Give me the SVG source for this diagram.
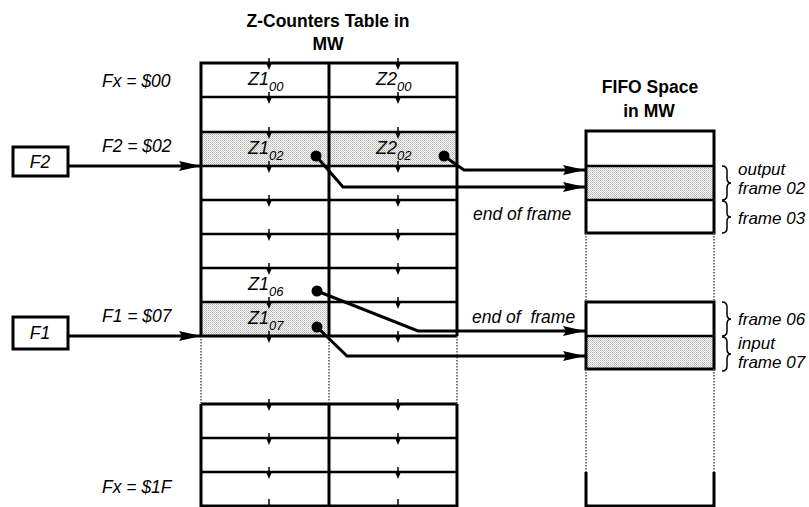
<svg xmlns="http://www.w3.org/2000/svg" xmlns:xlink="http://www.w3.org/1999/xlink" width="809" height="507" viewBox="0 0 809 507">
<style>
text{font-family:"Liberation Sans",Arial,sans-serif;fill:#000}
.it{font-style:italic;font-size:17.5px}
.rl{font-style:italic;font-size:17px}
.z{font-style:italic;font-size:18px}
.sub{font-size:13px}
.ttl{font-weight:bold;font-size:17.5px}
.frame{fill:none;stroke:#000;stroke-width:3}
.row{stroke:#000;stroke-width:2.5;fill:none}
.dot{stroke:#444;stroke-width:1.4;stroke-dasharray:1.5 1.5;fill:none}
.shade{fill:url(#dots);stroke:none}
.conn{fill:none;stroke:#000;stroke-width:3}
.brace{fill:none;stroke:#000;stroke-width:1.5}
</style>
<defs>
<pattern id="dots" width="2" height="2" patternUnits="userSpaceOnUse">
<rect width="2" height="2" fill="#fff"/>
<rect width="1" height="1" fill="#b4b4b4"/>
<rect x="1" y="1" width="1" height="1" fill="#c8c8c8"/>
</pattern>
<marker id="ah" viewBox="0 0 22 10" refX="22" refY="5" markerWidth="22" markerHeight="10" markerUnits="userSpaceOnUse" orient="auto">
<path d="M0,0 L22,5 L0,10 L3,5 z" fill="#000"/>
</marker>
<g id="tick">
<line x1="0" y1="-5" x2="0" y2="4" stroke="#000" stroke-width="1.5"/>
<path d="M-2.5,1 L2.5,1 L0,7 z" fill="#000"/>
</g>
</defs>
<rect width="809" height="507" fill="#fff"/>

<g id="titles">
<text class="ttl" x="328" y="27" text-anchor="middle">Z-Counters Table in</text>
<text class="ttl" x="328" y="50" text-anchor="middle">MW</text>
<text class="ttl" x="650" y="93" text-anchor="middle">FIFO Space</text>
<text class="ttl" x="649" y="117" text-anchor="middle">in MW</text>
</g>

<g id="row-labels">
<text class="it" x="102" y="87">Fx = $00</text>
<text class="it" x="102" y="152">F2 = $02</text>
<text class="it" x="102" y="322">F1 = $07</text>
<text class="it" x="102" y="493">Fx = $1F</text>
</g>

<g id="z-table">
<rect class="shade" x="201" y="132" width="256" height="34"/>
<rect class="shade" x="201" y="302" width="128" height="34"/>
<path class="row" d="M201,97H457M201,132H457M201,166H457M201,200H457M201,234H457M201,268H457M201,302H457M201,438H457M201,472H457"/>
<path class="frame" d="M201,336V63H457V336M201,336H457M329,63V336"/>
<path class="frame" d="M201,404V506H457V404M201,404H457M329,404V506"/>
<path class="dot" d="M201,336V404M329,336V404M457,336V404"/>
<use xlink:href="#tick" x="269" y="63"/><use xlink:href="#tick" x="398" y="63"/>
<use xlink:href="#tick" x="269" y="97"/><use xlink:href="#tick" x="398" y="97"/>
<use xlink:href="#tick" x="269" y="132"/><use xlink:href="#tick" x="398" y="132"/>
<use xlink:href="#tick" x="269" y="166"/><use xlink:href="#tick" x="398" y="166"/>
<use xlink:href="#tick" x="269" y="200"/><use xlink:href="#tick" x="398" y="200"/>
<use xlink:href="#tick" x="269" y="234"/><use xlink:href="#tick" x="398" y="234"/>
<use xlink:href="#tick" x="269" y="268"/><use xlink:href="#tick" x="398" y="268"/>
<use xlink:href="#tick" x="269" y="302"/><use xlink:href="#tick" x="398" y="302"/>
<use xlink:href="#tick" x="269" y="336"/><use xlink:href="#tick" x="398" y="336"/>
<use xlink:href="#tick" x="269" y="404"/><use xlink:href="#tick" x="398" y="404"/>
<use xlink:href="#tick" x="269" y="438"/><use xlink:href="#tick" x="398" y="438"/>
<use xlink:href="#tick" x="269" y="472"/><use xlink:href="#tick" x="398" y="472"/>
<use xlink:href="#tick" x="269" y="504"/><use xlink:href="#tick" x="398" y="504"/>
<text class="z" x="248" y="85">Z1<tspan class="sub" dy="6">00</tspan></text>
<text class="z" x="376" y="85">Z2<tspan class="sub" dy="6">00</tspan></text>
<text class="z" x="248" y="154">Z1<tspan class="sub" dy="6">02</tspan></text>
<text class="z" x="376" y="154">Z2<tspan class="sub" dy="6">02</tspan></text>
<text class="z" x="248" y="290">Z1<tspan class="sub" dy="6">06</tspan></text>
<text class="z" x="248" y="324">Z1<tspan class="sub" dy="6">07</tspan></text>
</g>

<g id="fifo">
<rect class="shade" x="586" y="166" width="128" height="34"/>
<rect class="shade" x="586" y="336" width="128" height="33"/>
<path class="row" d="M586,166H714M586,200H714M586,336H714"/>
<rect class="frame" x="586" y="131" width="128" height="102"/>
<rect class="frame" x="586" y="302" width="128" height="67"/>
<path class="frame" d="M586,472V506H714V472"/>
<path class="dot" d="M586,233V302M714,233V302M586,369V472M714,369V472"/>
<path class="brace" d="M722,166q5,0 5,5v7q0,5 4,5q-4,0 -4,5v7q0,5 -5,5"/>
<path class="brace" d="M722,201q5,0 5,5v7q0,4 4,4q-4,0 -4,4v7q0,5 -5,5"/>
<path class="brace" d="M722,302q5,0 5,5v7q0,5 4,5q-4,0 -4,5v7q0,5 -5,5"/>
<path class="brace" d="M722,337q5,0 5,5v7q0,5 4,5q-4,0 -4,5v7q0,5 -5,5"/>
<text class="rl" x="738" y="175">output</text>
<text class="rl" x="738" y="194">frame 02</text>
<text class="rl" x="738" y="224">frame 03</text>
<text class="rl" x="738" y="325">frame 06</text>
<text class="rl" x="738" y="349">input</text>
<text class="rl" x="738" y="368">frame 07</text>
</g>

<g id="F2">
<rect class="frame" x="13" y="147" width="55" height="29"/>
<text class="it" x="40" y="168" text-anchor="middle">F2</text>
</g>
<g id="F1">
<rect class="frame" x="13" y="317" width="55" height="32"/>
<text class="it" x="40" y="339" text-anchor="middle">F1</text>
</g>

<g id="connectors">
<path class="conn" d="M68,166H201" marker-end="url(#ah)"/>
<path class="conn" d="M68,336H201" marker-end="url(#ah)"/>
<circle cx="316" cy="156" r="5.5"/>
<circle cx="444" cy="156" r="5.5"/>
<circle cx="317" cy="291" r="5.5"/>
<circle cx="317" cy="327" r="5.5"/>
<path class="conn" d="M316,156L343,187H585" marker-end="url(#ah)"/>
<path class="conn" d="M444,156L464,170H585" marker-end="url(#ah)"/>
<path class="conn" d="M317,291L418,331H585" marker-end="url(#ah)"/>
<path class="conn" d="M317,327L347,356H585" marker-end="url(#ah)"/>
<text class="it" x="473" y="220">end of frame</text>
<text class="it" x="472" y="323" xml:space="preserve">end of  frame</text>
</g>
</svg>
